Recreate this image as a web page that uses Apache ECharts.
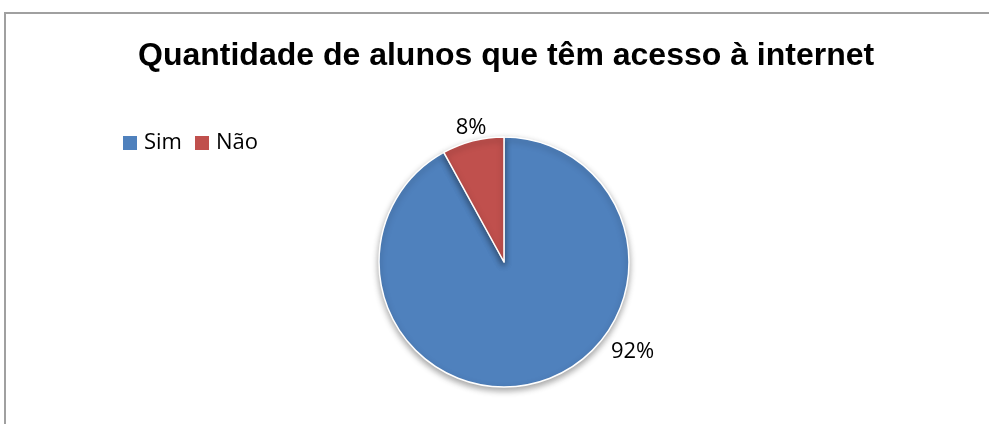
<!DOCTYPE html>
<html><head><meta charset="utf-8">
<script src="https://cdn.jsdelivr.net/npm/echarts@6/dist/echarts.min.js"></script>
<style>html,body{margin:0;padding:0;background:#fff}#c{width:989px;height:424px}</style>
</head><body><div id="c"></div>
<script>
const titleText = 'Quantidade de alunos que têm acesso à internet';
const categories = ['Sim', 'Não'];
const values = [92, 8];
const colors = ['#4F81BD', '#C0504D'];

const chart = echarts.init(document.getElementById('c'), null, {renderer: 'canvas'});
const cx = 504, cy = 262, R = 125;
chart.setOption({
  animation: false,
  backgroundColor: '#ffffff',
  graphic: [{
    type: 'rect', shape: {x: 5, y: 13, width: 1100, height: 500},
    style: {fill: 'none', stroke: '#a0a0a0', lineWidth: 2}, silent: true, z: -1
  }],
  title: {
    text: titleText, left: 133, top: 35,
    textStyle: {fontFamily: 'Liberation Sans, Arial', fontWeight: 'bold', fontSize: 32, color: '#000'}
  },
  legend: {
    left: 123, top: 132, padding: 0, itemWidth: 14, itemHeight: 14, itemGap: 13,
    icon: 'rect',
    itemStyle: {borderWidth: 0},
    textStyle: {fontFamily: 'Open Sans', fontSize: 22, color: '#000', padding: [0, 0, 0, 2]},
    data: categories
  },
  series: [{
    type: 'pie',
    center: [cx, cy],
    radius: R,
    startAngle: 90,
    clockwise: true,
    color: colors,
    data: categories.map((c, i) => ({name: c, value: values[i]})),
    itemStyle: {borderColor: '#fff', borderWidth: 1.5, shadowBlur: 6, shadowOffsetY: 3, shadowColor: 'rgba(0,0,0,0.35)'},
    label: {
      show: true, position: 'outside', formatter: '{d}%',
      fontFamily: 'Open Sans', fontSize: 22, color: '#000'
    },
    labelLine: {show: false, length: 5, length2: 0},
    labelLayout: function (p) {
      const ang = p.dataIndex === 0 ? 125 : -13.8;
      const r = p.dataIndex === 0 ? 157 : 138;
      const a = ang * Math.PI / 180;
      return {x: cx + r * Math.sin(a), y: cy - r * Math.cos(a), align: 'center', verticalAlign: 'middle'};
    }
  }]
});
</script></body></html>
